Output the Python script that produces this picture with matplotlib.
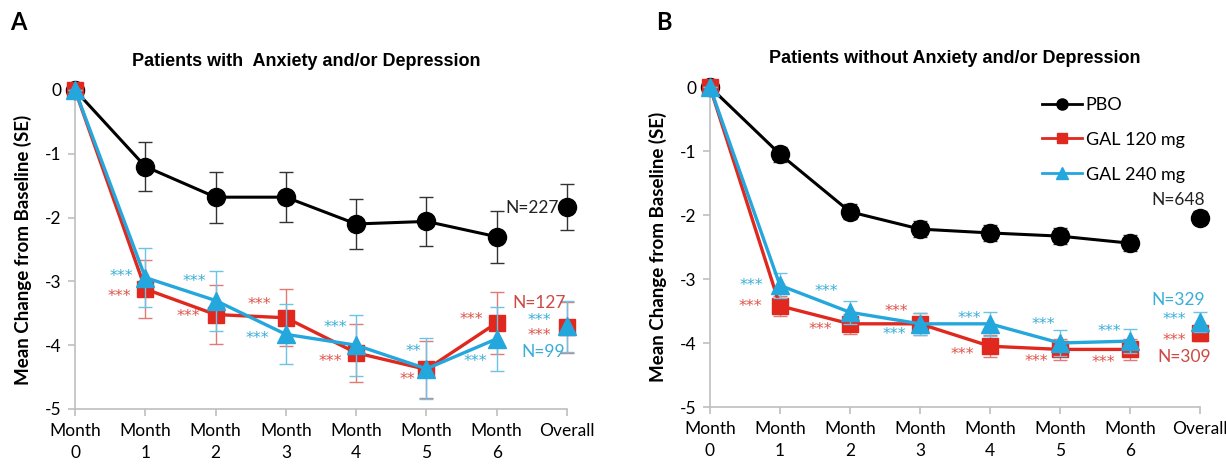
import matplotlib.pyplot as plt
from matplotlib.lines import Line2D

plt.rcParams['font.family'] = ['Lato', 'DejaVu Sans']

# categories
months = ['Month\n0', 'Month\n1', 'Month\n2', 'Month\n3', 'Month\n4', 'Month\n5', 'Month\n6', 'Overall']

# Panel A: patients with anxiety and/or depression
a_pbo = [0, -1.20, -1.68, -1.68, -2.10, -2.06, -2.30, -1.84]
a_pbo_se = [0, 0.38, 0.40, 0.39, 0.39, 0.39, 0.41, 0.36]
a_120 = [0, -3.12, -3.52, -3.57, -4.12, -4.38, -3.65, -3.72]
a_120_se = [0, 0.45, 0.46, 0.45, 0.45, 0.45, 0.49, 0.40]
a_240 = [0, -2.94, -3.30, -3.83, -4.00, -4.37, -3.90, -3.70]
a_240_se = [0, 0.46, 0.47, 0.47, 0.48, 0.48, 0.50, 0.40]

# Panel B: patients without anxiety and/or depression
b_pbo = [0, -1.05, -1.95, -2.22, -2.28, -2.33, -2.44, -2.04]
b_pbo_se = [0, 0.12, 0.12, 0.12, 0.12, 0.12, 0.12, 0.10]
b_120 = [0, -3.42, -3.70, -3.70, -4.05, -4.10, -4.10, -3.85]
b_120_se = [0, 0.16, 0.16, 0.17, 0.17, 0.17, 0.17, 0.12]
b_240 = [0, -3.10, -3.52, -3.70, -3.70, -4.00, -3.97, -3.67]
b_240_se = [0, 0.20, 0.18, 0.17, 0.19, 0.20, 0.19, 0.16]

RED = '#e0281e'
BLUE = '#24a7dd'
RED_TXT = '#e0524a'
BLUE_TXT = '#3aaed6'

fig = plt.figure(figsize=(12.26, 4.68), dpi=100)
ax_a = fig.add_axes([0.0612, 0.1261, 0.4013, 0.6816])
ax_b = fig.add_axes([0.5791, 0.1303, 0.3997, 0.6838])


def draw_panel(ax, pbo, pbo_se, g120, g120_se, g240, g240_se, title, title_x):
    x = list(range(len(months)))
    xl, xo = x[:7], x[7]
    series = [(pbo, pbo_se, 'black', '#333333', 'o', 13, 2.2, 3),
              (g120, g120_se, RED, '#e07a74', 's', 12, 2.4, 4),
              (g240, g240_se, BLUE, '#6cc3e6', '^', 13, 2.4, 5)]
    for vals, se, c, ec, m, ms, lw, z in series:
        ax.errorbar(xl, vals[:7], yerr=se[:7], color=c, lw=lw, marker=m, ms=ms,
                    ecolor=ec, elinewidth=1, capsize=5, capthick=1, clip_on=False, zorder=z)
        ax.errorbar([xo], [vals[7]], yerr=[se[7]], color=c, marker=m, ms=ms, ls='none',
                    ecolor=ec, elinewidth=1, capsize=5, capthick=1, clip_on=False, zorder=z)

    ax.set_xlim(0, 7)
    ax.set_ylim(-5, 0)
    ax.set_xticks(x)
    ax.set_xticklabels(months, fontsize=12.5, linespacing=1.5)
    ax.set_yticks([0, -1, -2, -3, -4, -5])
    ax.set_yticklabels(['0', '-1', '-2', '-3', '-4', '-5'], fontsize=12.5)
    for s in ['top', 'right']:
        ax.spines[s].set_visible(False)
    for s in ['left', 'bottom']:
        ax.spines[s].set_color('#bfbfbf')
        ax.spines[s].set_linewidth(1.2)
    ax.tick_params(axis='both', color='#bfbfbf', length=5, width=1.2, pad=5)
    ax.set_ylabel('Mean Change from Baseline (SE)', fontsize=13.5, fontweight='bold', labelpad=9)
    ax.set_title(title, fontsize=13, fontweight='bold', pad=17, family='Liberation Sans', x=title_x)


draw_panel(ax_a, a_pbo, a_pbo_se, a_120, a_120_se, a_240, a_240_se,
           'Patients with  Anxiety and/or Depression', 0.47)
draw_panel(ax_b, b_pbo, b_pbo_se, b_120, b_120_se, b_240, b_240_se,
           'Patients without Anxiety and/or Depression', 0.5)

# significance marks: (x, y, text, color)
a_notes = [
    (0.66, -2.92, '***', BLUE_TXT), (0.63, -3.24, '***', RED_TXT),
    (1.70, -3.00, '***', BLUE_TXT), (1.61, -3.55, '***', RED_TXT),
    (2.63, -3.37, '***', RED_TXT), (2.60, -3.89, '***', BLUE_TXT),
    (3.71, -3.73, '***', BLUE_TXT), (3.63, -4.25, '***', RED_TXT),
    (4.82, -4.10, '**', BLUE_TXT), (4.73, -4.54, '**', RED_TXT),
    (5.64, -3.59, '***', RED_TXT), (5.70, -4.25, '***', BLUE_TXT),
    (6.61, -3.62, '***', BLUE_TXT), (6.61, -3.85, '***', RED_TXT),
]
b_notes = [
    (0.59, -3.10, '***', BLUE_TXT), (0.58, -3.43, '***', RED_TXT),
    (1.67, -3.20, '***', BLUE_TXT), (1.58, -3.79, '***', RED_TXT),
    (2.66, -3.51, '***', RED_TXT), (2.63, -3.87, '***', BLUE_TXT),
    (3.71, -3.61, '***', BLUE_TXT), (3.60, -4.18, '***', RED_TXT),
    (4.76, -3.71, '***', BLUE_TXT), (4.66, -4.29, '***', RED_TXT),
    (5.71, -3.82, '***', BLUE_TXT), (5.62, -4.30, '***', RED_TXT),
    (6.63, -3.64, '***', BLUE_TXT), (6.63, -3.96, '***', RED_TXT),
]
for ax, notes in [(ax_a, a_notes), (ax_b, b_notes)]:
    for xx, yy, t, c in notes:
        ax.text(xx, yy, t, color=c, fontsize=11.5, ha='center', va='center', zorder=6,
                family='DejaVu Sans')

ax_a.text(6.5, -1.85, 'N=227', fontsize=12.5, color='#222222', ha='center', va='center', zorder=6)
ax_a.text(6.6, -3.34, 'N=127', fontsize=12.5, color='#cc4a44', ha='center', va='center', zorder=6)
ax_a.text(6.66, -4.10, 'N=99', fontsize=12.5, color=BLUE_TXT, ha='center', va='center', zorder=6)
ax_b.text(6.69, -1.76, 'N=648', fontsize=12.5, color='#222222', ha='center', va='center', zorder=6)
ax_b.text(6.69, -3.33, 'N=329', fontsize=12.5, color=BLUE_TXT, ha='center', va='center', zorder=6)
ax_b.text(6.78, -4.22, 'N=309', fontsize=12.5, color='#cc4a44', ha='center', va='center', zorder=6)

handles = [Line2D([], [], color='black', lw=2, marker='o', ms=8),
           Line2D([], [], color=RED, lw=2, marker='s', ms=7),
           Line2D([], [], color=BLUE, lw=2, marker='^', ms=8)]
ax_b.legend(handles, ['PBO', 'GAL 120 mg', 'GAL 240 mg'], loc='upper left',
            bbox_to_anchor=(0.645, 1.02), frameon=False, fontsize=13,
            handlelength=2.2, handletextpad=0.2, labelspacing=1.05)

fig.text(0.008, 0.935, 'A', fontsize=17, fontweight='bold')
fig.text(0.535, 0.935, 'B', fontsize=17, fontweight='bold')

fig.savefig('out.png', dpi=100)
